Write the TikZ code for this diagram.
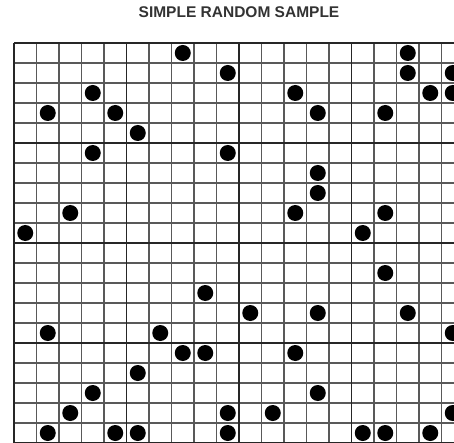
\documentclass[tikz,border=0pt]{standalone}
\usepackage{fontspec}
\setmainfont{Liberation Sans}
\begin{document}
\begin{tikzpicture}[x=1pt,y=-1pt,
  thinline/.style={draw=black!65,line width=1.3pt},
  thickline/.style={draw=black!85,line width=1.8pt},
  dot/.style={circle,fill=black,inner sep=0pt,minimum size=16pt}]
\useasboundingbox (0,0) rectangle (454,443);
\node[font=\bfseries\fontsize{15.5}{17}\selectfont,text=black!80] (title) at (239,12.5) {SIMPLE RANDOM SAMPLE};
\begin{scope}
\clip (0,30) rectangle (454,443);
\foreach \k in {0,...,20} {
  \draw[thinline] (14,{43+20*\k}) -- (470,{43+20*\k});
  \draw[thinline] ({14+22.5*\k},43) -- ({14+22.5*\k},460);
}
\foreach \k in {0,1,2,3,4} {
  \draw[thickline] (14,{43+100*\k}) -- (470,{43+100*\k});
  \draw[thickline] ({14+112.5*\k},43) -- ({14+112.5*\k},460);
}
\foreach \c/\r [count=\i] in {
  7/0,17/0,
  9/1,17/1,19/1,
  3/2,12/2,18/2,19/2,
  1/3,4/3,13/3,16/3,
  5/4,
  3/5,9/5,
  13/6,
  13/7,
  2/8,12/8,16/8,
  0/9,15/9,
  16/11,
  8/12,
  10/13,13/13,17/13,
  1/14,6/14,19/14,
  7/15,8/15,12/15,
  5/16,
  3/17,13/17,
  2/18,9/18,11/18,19/18,
  1/19,4/19,5/19,9/19,15/19,16/19,18/19}
  \node[dot] (d\i) at ({25.25+22.5*\c},{53+20*\r}) {};
\end{scope}
\end{tikzpicture}
\end{document}
